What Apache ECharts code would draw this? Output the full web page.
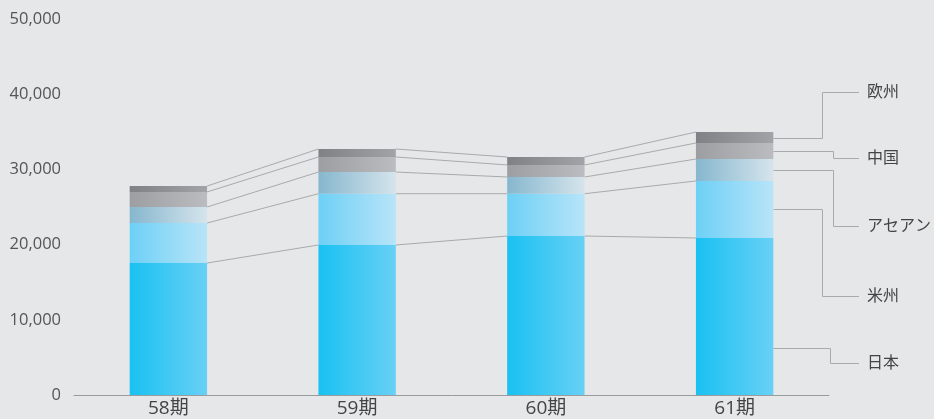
<!DOCTYPE html>
<html><head><meta charset="utf-8">
<script src="https://cdn.jsdelivr.net/npm/echarts@6/dist/echarts.min.js"></script>
<style>html,body{margin:0;padding:0;background:#e6e7e9;}#c{width:934px;height:419px;}</style>
</head><body><div id="c"></div>
<script>
var categories = ['58期', '59期', '60期', '61期'];
var seriesNames = ['日本', '米州', 'アセアン', '中国', '欧州'];
var japan  = [17550, 19950, 21140, 20880];
var americas = [5320, 6820, 5630, 7580];
var asean  = [2130, 2880, 2220, 2920];
var china  = [2000, 2000, 1600, 2130];
var europe = [790, 1060, 1060, 1460];
var yTicks = [0, 10000, 20000, 30000, 40000, 50000];
var stacks = [japan, americas, asean, china, europe];
var colorPairs = [
  ['#19c1f2', '#68d0f5'],
  ['#6dd0f6', '#b8e4f8'],
  ['#86b7ce', '#d5e4ec'],
  ['#9c9ea2', '#babcbf'],
  ['#7f8185', '#a1a3a7']
];
// label y positions (layout, px) and elbow x
var labelY = [363, 296, 226, 158, 92];
var elbowX = [830, 822, 833, 833, 822];
var japanLeaderFrac = 0.3;
var FONT = "'Open Sans', 'Noto Sans CJK JP', sans-serif";

var chart = echarts.init(document.getElementById('c'));
var series = stacks.map(function (arr, i) {
  return {
    name: seriesNames[i], type: 'bar', stack: 'total', barWidth: '41%',
    data: arr,
    itemStyle: { color: new echarts.graphic.LinearGradient(0, 0, 1, 0, [
      { offset: 0, color: colorPairs[i][0] }, { offset: 1, color: colorPairs[i][1] }]) }
  };
});
function cumTop(k, i) { var s = 0; for (var j = 0; j <= k; j++) s += stacks[j][i]; return s; }
series.push({
  type: 'custom', z: 1, silent: true,
  data: [0, 1, 2],
  renderItem: function (params, api) {
    var i = api.value(0);
    var bw = api.size([1, 0])[0] * 0.41;
    var children = [];
    for (var k = 0; k < stacks.length; k++) {
      var p1 = api.coord([i, cumTop(k, i)]);
      var p2 = api.coord([i + 1, cumTop(k, i + 1)]);
      children.push({ type: 'line', shape: { x1: p1[0] + bw / 2, y1: p1[1], x2: p2[0] - bw / 2, y2: p2[1] },
        style: { stroke: '#a9aaac', lineWidth: 1 } });
    }
    return { type: 'group', children: children };
  },
  encode: { x: 0 }
});

chart.setOption({
  backgroundColor: '#e6e7e9',
  animation: false,
  grid: { left: 74, right: 105, top: 19, bottom: 24 },
  xAxis: {
    type: 'category', data: categories,
    axisLine: { lineStyle: { color: '#9a9b9d', width: 1 } },
    axisTick: { show: false },
    axisLabel: { color: '#444', fontSize: 19, margin: 4, fontFamily: FONT }
  },
  yAxis: {
    type: 'value', min: 0, max: 50000, interval: 10000,
    axisLine: { show: false }, axisTick: { show: false }, splitLine: { show: false },
    axisLabel: { color: '#555', fontSize: 16.5, margin: 13, fontFamily: FONT,
      formatter: function (v) { return yTicks.indexOf(v) >= 0 ? v.toLocaleString('en-US') : ''; } }
  },
  series: series
});

// leader lines + labels on the right of the last bar
var last = categories.length - 1;
var graphics = [];
var barRight = chart.convertToPixel({ xAxisIndex: 0 }, last) + 188.75 * 0.41 / 2;
for (var k = 0; k < stacks.length; k++) {
  var base = k === 0 ? 0 : cumTop(k - 1, last);
  var frac = k === 0 ? japanLeaderFrac : 0.5;
  var v = base + stacks[k][last] * frac;
  var y0 = Math.round(chart.convertToPixel({ yAxisIndex: 0 }, v)) + 0.5;
  var ly = labelY[k] + 0.5;
  graphics.push({ type: 'polyline', silent: true,
    shape: { points: [[barRight, y0], [elbowX[k] + 0.5, y0], [elbowX[k] + 0.5, ly], [859, ly]] },
    style: { stroke: '#a9aaac', lineWidth: 1, fill: null } });
  graphics.push({ type: 'text', silent: true, x: 867, y: labelY[k],
    style: { text: seriesNames[k], fill: '#444', fontSize: 16, fontFamily: FONT, verticalAlign: 'middle', align: 'left' } });
}
chart.setOption({ graphic: graphics });
</script>
</body></html>
